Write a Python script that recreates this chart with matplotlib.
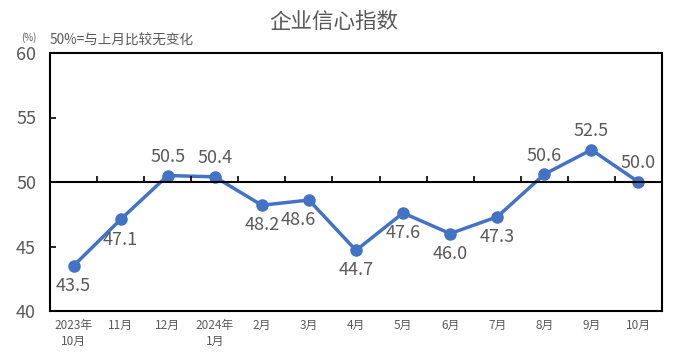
import matplotlib.pyplot as plt
import numpy as np

plt.rcParams['font.family'] = ['Noto Sans CJK SC', 'DejaVu Sans']

months = ['2023年\n10月', '11月', '12月', '2024年\n1月', '2月', '3月', '4月',
          '5月', '6月', '7月', '8月', '9月', '10月']
values = [43.5, 47.1, 50.5, 50.4, 48.2, 48.6, 44.7, 47.6, 46.0, 47.3, 50.6, 52.5, 50.0]
label_pos = ['below', 'below', 'above', 'above', 'below', 'below', 'below',
             'below', 'below', 'below', 'above', 'above', 'above']

gray = '#595959'
blue = '#4472C4'

fig = plt.figure(figsize=(6.78, 3.61), dpi=100)
ax = fig.add_axes([50 / 678, 1 - 311 / 361, 612 / 678, 258 / 361])

x = np.arange(len(values))
ax.plot(x, values, color=blue, linewidth=2.5, marker='o', markersize=8, zorder=3)

for xi, v, pos in zip(x, values, label_pos):
    dy = 7 if pos == 'above' else -8
    dx = -8 if v == 48.6 else 0
    va = 'bottom' if pos == 'above' else 'top'
    ax.annotate('{:.1f}'.format(v), (xi, v), xytext=(dx, dy), textcoords='offset points',
                ha='center', va=va, fontsize=13, color=gray)

ax.set_xlim(-0.5, len(values) - 0.5)
ax.set_ylim(40, 60)
ax.set_yticks([40, 45, 50, 55, 60])
ax.set_xticks(x)
ax.set_xticklabels(months, fontsize=8.5, color=gray, linespacing=1.3)
for lbl in ax.get_yticklabels():
    lbl.set_fontsize(13)
    lbl.set_color(gray)
ax.tick_params(axis='x', length=0, pad=6)
ax.tick_params(axis='y', direction='in', length=4, width=1.2, pad=10)
for sp in ax.spines.values():
    sp.set_linewidth(1.5)
    sp.set_color('black')

# 50% reference line as a second x axis with ticks between months
ax2 = ax.twiny()
ax2.set_xlim(ax.get_xlim())
for name in ['top', 'left', 'right']:
    ax2.spines[name].set_visible(False)
ax2.spines['bottom'].set_position(('data', 50))
ax2.spines['bottom'].set_linewidth(1.5)
ax2.xaxis.set_ticks_position('bottom')
ax2.set_xticks(x[:-1] + 0.5)
ax2.set_xticklabels([])
ax2.tick_params(axis='x', direction='in', length=4, width=1.2)

fig.text(334 / 678, 1 - 22 / 361, '企业信心指数', ha='center', va='center', fontsize=15.5, color=gray)
fig.text(21 / 678, 1 - 38 / 361, '(%)', ha='left', va='center', fontsize=7, color=gray)
fig.text(50 / 678, 1 - 41 / 361, '50%=与上月比较无变化', ha='left', va='center', fontsize=9.8, color=gray)

fig.savefig('out.png', dpi=100)
